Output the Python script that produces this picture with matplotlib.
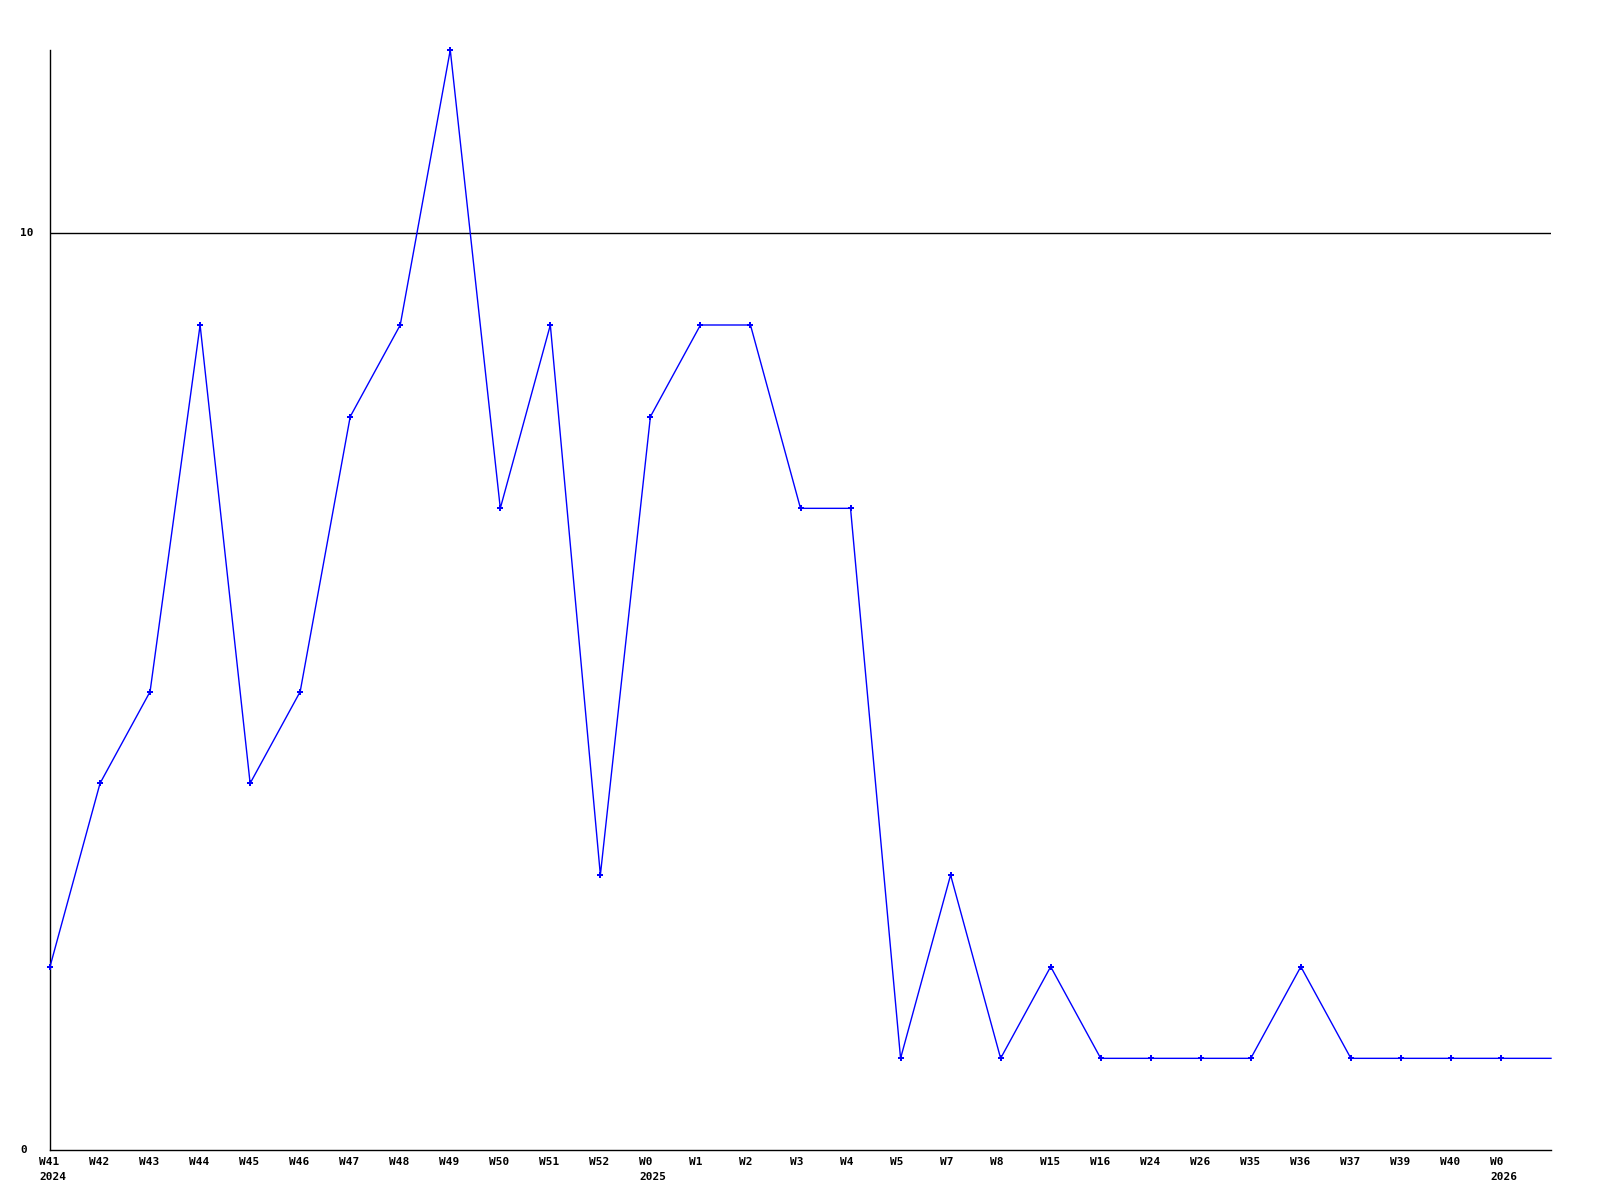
import matplotlib
matplotlib.use("Agg")
import matplotlib.pyplot as plt
from matplotlib.transforms import blended_transform_factory, offset_copy

weeks = ["W41", "W42", "W43", "W44", "W45", "W46", "W47", "W48", "W49", "W50",
         "W51", "W52", "W0", "W1", "W2", "W3", "W4", "W5", "W7", "W8",
         "W15", "W16", "W24", "W26", "W35", "W36", "W37", "W39", "W40", "W0"]
years = {0: "2024", 12: "2025", 29: "2026"}
values = [2, 4, 5, 9, 4, 5, 8, 9, 12, 7,
          9, 3, 8, 9, 9, 7, 7, 1, 3, 1,
          2, 1, 1, 1, 1, 2, 1, 1, 1, 1]
y_ticks = [0, 10]
y_max = 12

fig = plt.figure(figsize=(16, 12), dpi=100)
ax = fig.add_axes([50/1600, 1 - 1150/1200, 1501/1600, 1100/1200])
n = len(values)
xs = list(range(n))
ax.set_xlim(0, n)
ax.set_ylim(0, y_max)

# line extends to the right edge at the last value
ax.plot(xs + [n], values + [values[-1]], color="#0000ff", lw=1.0, clip_on=False, zorder=3)
ax.plot(xs, values, linestyle="none", marker="P", markersize=4, color="#0000ff",
        markeredgewidth=0, clip_on=False, zorder=4)

ax.axhline(10, color="black", lw=1.0, zorder=2)

for s in ["top", "right"]:
    ax.spines[s].set_visible(False)
ax.spines["left"].set_linewidth(1.0)
ax.spines["bottom"].set_linewidth(1.0)
ax.set_xticks([])
ax.set_yticks([])

font = dict(family="DejaVu Sans Mono", fontweight="bold", fontsize=8, color="black")

# y labels
for v in y_ticks:
    ax.text(20/1600, v, str(v), transform=blended_transform_factory(fig.transFigure, ax.transData),
            ha="left", va="center", **font)

# x labels
trans = blended_transform_factory(ax.transData, fig.transFigure)
t = offset_copy(trans, fig=fig, x=-11, y=0, units="dots")
for i, w in enumerate(weeks):
    ax.text(i, 1 - 1162/1200, w, transform=t, ha="left", va="center", **font)
    if i in years:
        ax.text(i, 1 - 1177/1200, years[i], transform=t, ha="left", va="center", **font)

fig.savefig("out.png", dpi=100)
